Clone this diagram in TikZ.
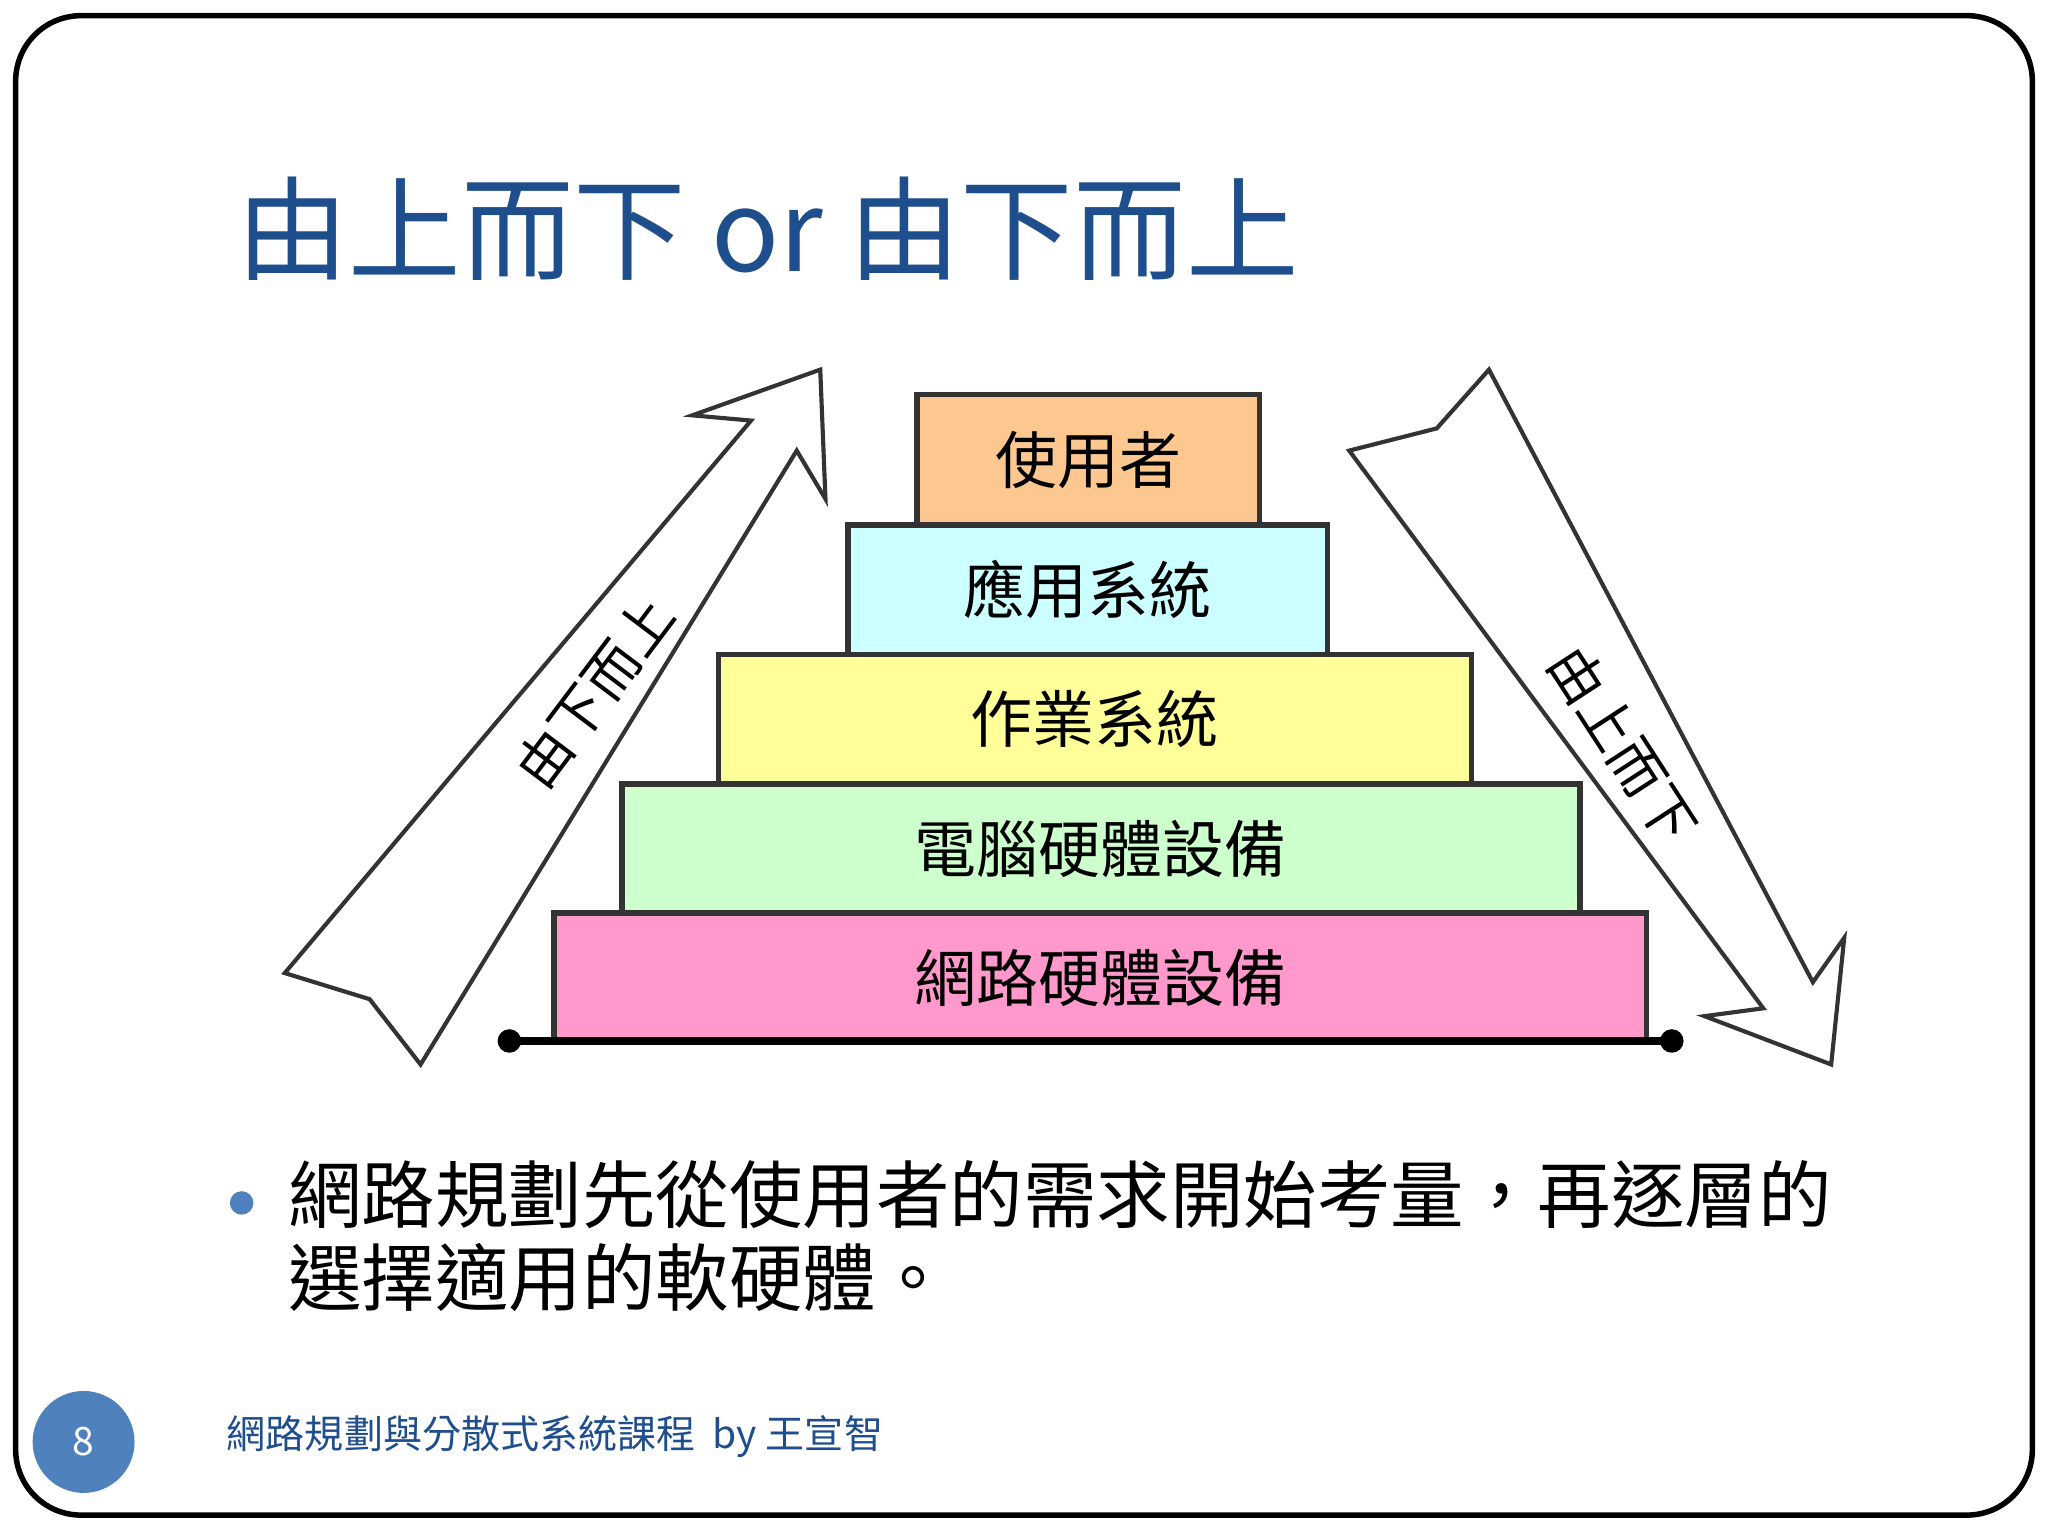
\documentclass[tikz,border=0pt]{standalone}
\usepackage{fontspec}
\setmainfont{Noto Sans CJK TC}
\definecolor{titleblue}{HTML}{1F4E8C}
\definecolor{dotblue}{HTML}{4F81BD}
\begin{document}
\begin{tikzpicture}[x=0.01cm,y=-0.01cm,
  layer/.style={draw=black!80,line width=1.2pt,anchor=north west,inner sep=0pt,font=\fontsize{13.5pt}{16pt}\selectfont},
  hollow/.style={draw=black!80,line width=0.9pt,fill=white}]
\useasboundingbox (0,0) rectangle (1568,1176);
\draw[line width=1.2pt,rounded corners=0.5cm] (12,12) rectangle (1556,1160);
\node[anchor=base west,text=titleblue,font=\fontsize{24.5pt}{28pt}\selectfont,inner sep=0pt] (title) at (180,208) {由上而下 or 由下而上};
% arrows
\draw[hollow] (218,745) -- (283,765) -- (322,815) -- (610,345) -- (632,382) -- (628,283) -- (530,318) -- (575,322) -- cycle;
\node[rotate=53,font=\fontsize{12pt}{14pt}\selectfont] (lup) at (455,530) {由下而上};
\draw[hollow] (1033,345) -- (1100,328) -- (1140,283) -- (1388,752) -- (1412,718) -- (1402,815) -- (1305,778) -- (1350,772) -- cycle;
\node[rotate=-57,font=\fontsize{12pt}{14pt}\selectfont] (rdown) at (1243,570) {由上而下};
% layers
\node[layer,fill={rgb,255:red,252;green,200;blue,144},minimum width=2.62cm,minimum height=1cm] (l1) at (700,300) {使用者};
\node[layer,fill={rgb,255:red,204;green,255;blue,255},minimum width=3.67cm,minimum height=0.99cm] (l2) at (647,400) {應用系統};
\node[layer,fill={rgb,255:red,255;green,255;blue,153},minimum width=5.76cm,minimum height=0.99cm] (l3) at (548,499) {作業系統};
\node[layer,fill={rgb,255:red,204;green,255;blue,204},minimum width=7.33cm,minimum height=0.99cm] (l4) at (474,598) {電腦硬體設備};
\node[layer,fill={rgb,255:red,255;green,153;blue,204},minimum width=8.36cm,minimum height=0.99cm] (l5) at (422,697) {網路硬體設備};
\coordinate (bl) at (390,797); \coordinate (br) at (1280,797);
\draw[line width=1.6pt] (bl) -- (br);
\fill (bl) circle (0.09cm); \fill (br) circle (0.09cm);
% bullet
\fill[dotblue] (185,921) circle (0.09cm);
\node[anchor=north west,align=left,inner sep=0pt,font=\fontsize{16pt}{18pt}\selectfont] (txt) at (220,888) {網路規劃先從使用者的需求開始考量，再逐層的\\選擇適用的軟硬體。};
% footer
\node[circle,fill=dotblue,minimum size=0.78cm,inner sep=0pt,text=white,font=\fontsize{8.5pt}{10pt}\selectfont] (pg) at (64,1104) {8};
\node[anchor=west,text=titleblue,inner sep=0pt,font=\fontsize{8.5pt}{10pt}\selectfont] (foot) at (173,1100) {網路規劃與分散式系統課程\ \ by 王宣智};
\end{tikzpicture}
\end{document}
